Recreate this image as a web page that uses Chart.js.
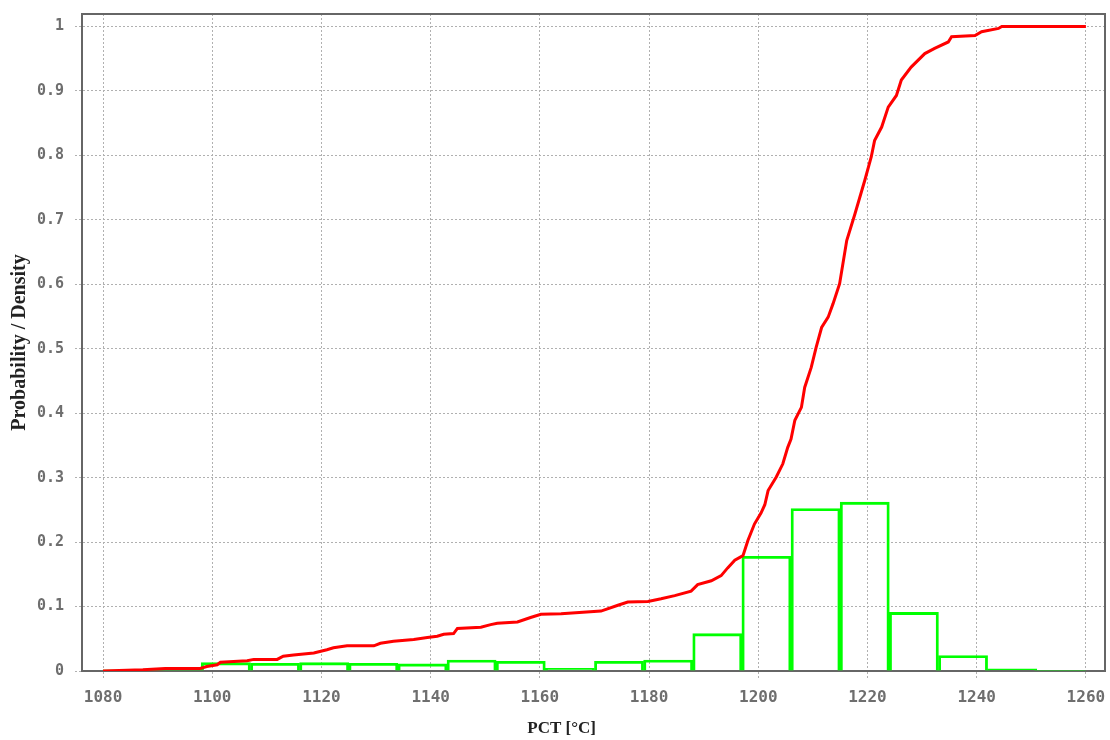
<!DOCTYPE html>
<html>
<head>
<meta charset="utf-8">
<script src="https://cdn.jsdelivr.net/npm/chart.js@4.4.1/dist/chart.umd.min.js"></script>
<style>
  html, body { margin: 0; padding: 0; background: #ffffff; }
  #wrap { width: 1110px; height: 740px; }
</style>
</head>
<body>
<div id="wrap"><canvas id="c" width="1110" height="740"></canvas></div>
<script>
// ---- Data ----
// Histogram (probability per 9 °C bin)
const binEdges = [1080, 1089, 1098, 1107, 1116, 1125, 1134, 1143, 1152, 1161, 1170,
                  1179, 1188, 1197, 1206, 1215, 1224, 1233, 1242, 1251, 1260];
const binHeights = [0.002, 0.002, 0.013, 0.012, 0.013, 0.012, 0.011, 0.017, 0.015, 0.004,
                    0.015, 0.017, 0.058, 0.178, 0.252, 0.262, 0.091, 0.024, 0.0034, 0.0006];

// Empirical CDF (PCT in °C, cumulative probability)
const cdfPct = [1080, 1087.3, 1091.4, 1097.8, 1099, 1100.9, 1101.5, 1106.4, 1107.6, 1111.9,
                1113, 1114.9, 1118.6, 1121, 1122.2, 1124.7, 1129.6, 1130.8, 1133.2, 1136.9,
                1139.4, 1141.2, 1142.4, 1144.2, 1144.9, 1149.2, 1151, 1152.2, 1155.9, 1158.3,
                1160.2, 1163.9, 1171.2, 1174.3, 1176.1, 1179.8, 1182.2, 1184.7, 1187.7, 1188.9,
                1191.4, 1193.2, 1194.4, 1195.7, 1197.2, 1198.1, 1199.3, 1200.5, 1201.2, 1201.8,
                1203.3, 1204.5, 1205.4, 1206.0, 1206.7, 1207.9, 1208.5, 1209.7, 1210.6, 1211.6,
                1212.8, 1213.7, 1214.9, 1216.2, 1217.7, 1219.5, 1220.7, 1221.3, 1222.6, 1223.8,
                1225.3, 1226.2, 1228.0, 1230.5, 1232.3, 1234.8, 1235.4, 1239.7, 1240.9, 1244.0,
                1244.6, 1260];
const cdfProb = [0, 0.002, 0.004, 0.004, 0.007, 0.0096, 0.0135, 0.016, 0.018, 0.018,
                 0.023, 0.025, 0.028, 0.033, 0.036, 0.039, 0.039, 0.043, 0.046, 0.049,
                 0.052, 0.054, 0.057, 0.058, 0.066, 0.068, 0.072, 0.074, 0.076, 0.083,
                 0.088, 0.089, 0.093, 0.102, 0.107, 0.108, 0.112, 0.117, 0.124, 0.134,
                 0.140, 0.148, 0.160, 0.172, 0.179, 0.2025, 0.228, 0.245, 0.258, 0.280,
                 0.301, 0.3215, 0.347, 0.360, 0.389, 0.409, 0.440, 0.471, 0.502, 0.533,
                 0.549, 0.570, 0.601, 0.668, 0.709, 0.761, 0.798, 0.823, 0.844, 0.875,
                 0.893, 0.917, 0.937, 0.958, 0.966, 0.976, 0.984, 0.986, 0.992, 0.997,
                 1.0, 1.0];

// Tick labels
const xTicks = [1080, 1100, 1120, 1140, 1160, 1180, 1200, 1220, 1240, 1260];
const yTicks = [0, 0.1, 0.2, 0.3, 0.4, 0.5, 0.6, 0.7, 0.8, 0.9, 1];
const xTitle = 'PCT [°C]';
const yTitle = 'Probability / Density';

// ---- Build chart ----
const histData = binHeights.map((h, i) => ({ x: (binEdges[i] + binEdges[i + 1]) / 2, y: h }));
const cdfData = cdfPct.map((x, i) => ({ x: x, y: cdfProb[i] }));

const tickFont = { family: '"DejaVu Sans Mono", monospace', size: 16, weight: 'bold' };
const gridCfg = {
  color: '#b0b0b0', lineWidth: 1,
  tickColor: '#b0b0b0', tickBorderDash: [2, 2], tickLength: 7, offset: false
};
const borderCfg = { display: true, color: '#666666', width: 2, dash: [2, 2] };

const frame = {
  id: 'frame',
  beforeDatasetsDraw(chart) {
    const a = chart.chartArea, ctx = chart.ctx;
    ctx.save();
    ctx.setLineDash([]);
    ctx.strokeStyle = '#666666';
    ctx.lineWidth = 2;
    ctx.strokeRect(a.left, a.top, a.right - a.left, a.bottom - a.top);
    ctx.restore();
  }
};

// pad the x title on the right so its centre sits left of the plot centre, as in the reference
const xTitleText = xTitle + '\u00a0'.repeat(15);

new Chart(document.getElementById('c'), {
  data: {
    datasets: [
      {
        type: 'line', label: 'CDF', data: cdfData,
        borderColor: '#ff0000', borderWidth: 3, pointRadius: 0, fill: false,
        tension: 0, order: 1
      },
      {
        type: 'bar', label: 'Histogram', data: histData,
        backgroundColor: 'rgba(0,0,0,0)', borderColor: '#00ff00', borderWidth: 2.2,
        borderSkipped: 'start', barPercentage: 1, categoryPercentage: 1, order: 2
      }
    ]
  },
  options: {
    responsive: false, animation: false,
    layout: { padding: { left: 0, top: 14, right: 5, bottom: 1 } },
    plugins: { legend: { display: false }, tooltip: { enabled: false } },
    scales: {
      x: {
        type: 'linear', min: 1076.15, max: 1263.5, offset: false,
        grid: gridCfg,
        border: borderCfg,
        ticks: { font: tickFont, color: '#6e6e6e', padding: 10, maxRotation: 0,
                 callback: v => String(v) },
        afterBuildTicks: s => { s.ticks = xTicks.map(v => ({ value: v })); },
        afterFit: s => { s.height = 68; s.paddingLeft = 0; s.paddingRight = 0; },
        title: { display: true, text: xTitleText,
                 font: { family: '"Liberation Serif", serif', size: 17, weight: 'bold' },
                 color: '#222222', padding: { top: 0, bottom: 0 } }
      },
      y: {
        type: 'linear', min: 0, max: 1.0194,
        grid: gridCfg,
        border: borderCfg,
        ticks: { font: { family: '"DejaVu Sans Mono", monospace', size: 15, weight: 'bold' },
                 color: '#6e6e6e', padding: 11, callback: v => String(v) },
        afterBuildTicks: s => { s.ticks = yTicks.map(v => ({ value: v })); },
        afterFit: s => { s.width = 82; s.paddingTop = 0; s.paddingBottom = 0; },
        title: { display: true, text: yTitle,
                 font: { family: '"Liberation Serif", serif', size: 20, weight: 'bold' },
                 color: '#222222', padding: { top: 8, bottom: 0 } }
      }
    }
  },
  plugins: [frame]
});
</script>
</body>
</html>
